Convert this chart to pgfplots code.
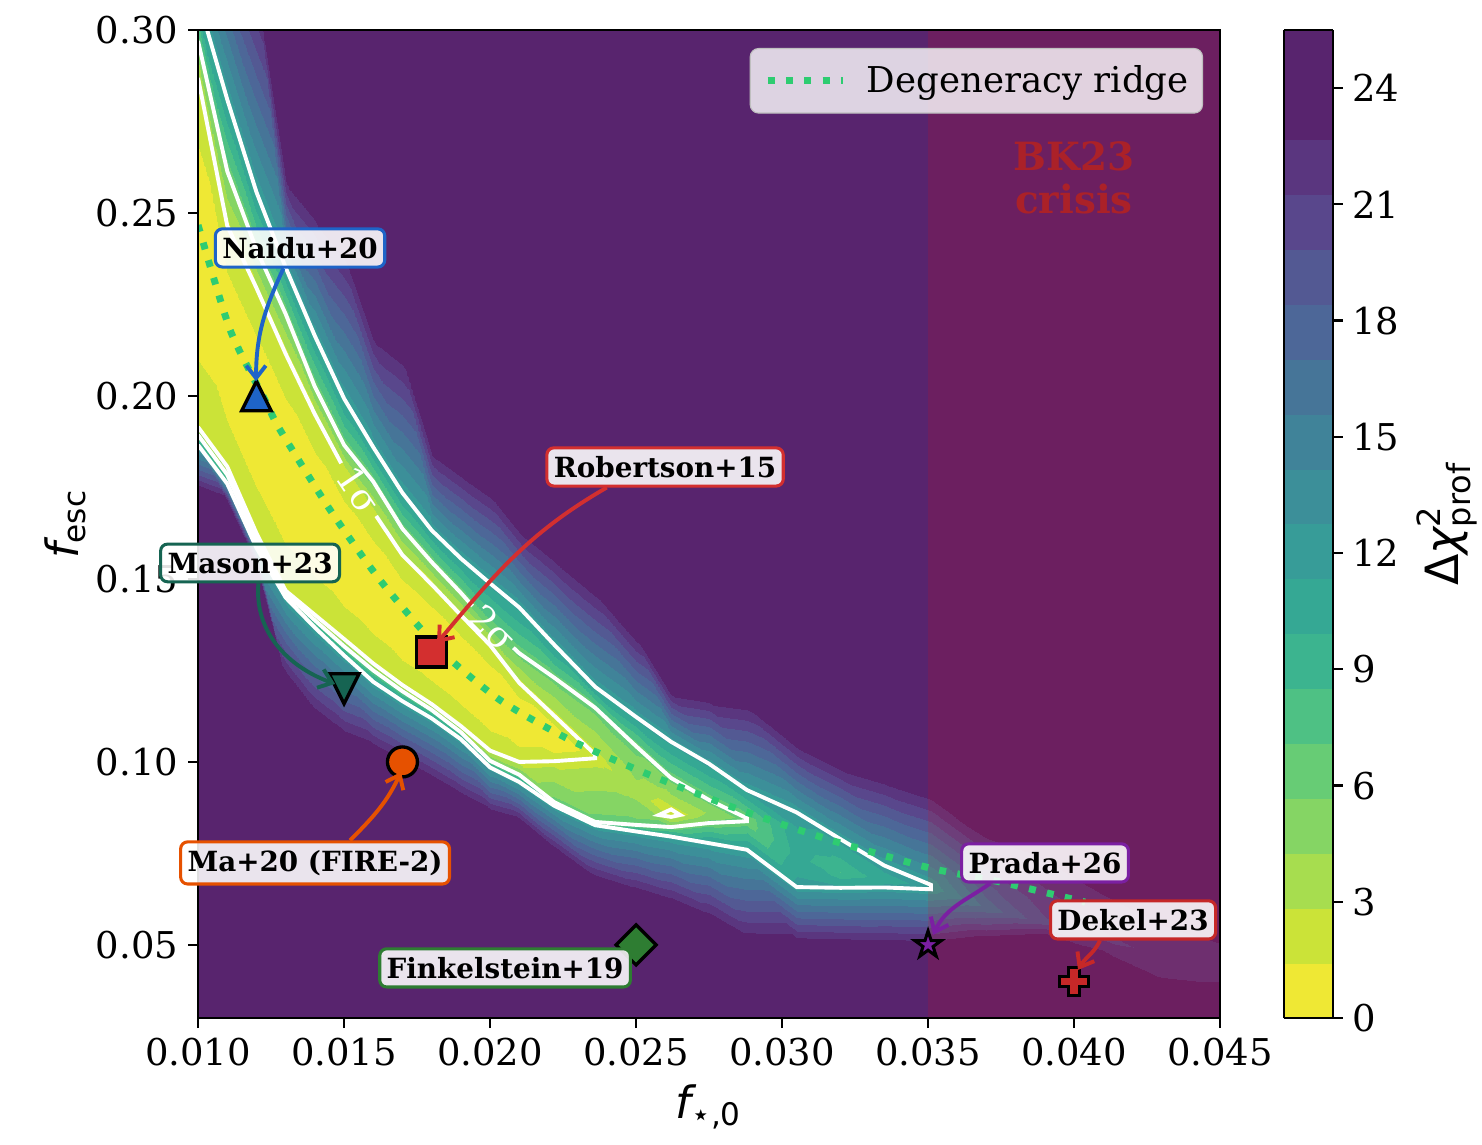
\documentclass[border=0pt]{standalone}
\usepackage{fontspec}
\setmainfont{DejaVu Serif}
\newfontfamily\dvsans{DejaVu Sans}
\usepackage{pgfplots}
\pgfplotsset{compat=1.18}
\usetikzlibrary{arrows.meta}
\pgfkeys{/pgf/number format/assume math mode=true}

\definecolor{ridgegreen}{RGB}{46,204,113}
\definecolor{naiduc}{RGB}{30,100,200}
\definecolor{robc}{RGB}{211,47,47}
\definecolor{masonc}{RGB}{22,100,82}
\definecolor{mac}{RGB}{230,81,0}
\definecolor{finkc}{RGB}{46,125,50}
\definecolor{pradac}{RGB}{123,31,162}
\definecolor{dekelc}{RGB}{198,40,40}
\definecolor{bkc}{RGB}{178,34,34}
\definecolor{bgpurple}{RGB}{88,36,110}

\pgfdeclareplotmark{tri}{%
  \pgfpathmoveto{\pgfqpoint{0pt}{\pgfplotmarksize}}%
  \pgfpathlineto{\pgfqpoint{-\pgfplotmarksize}{-\pgfplotmarksize}}%
  \pgfpathlineto{\pgfqpoint{\pgfplotmarksize}{-\pgfplotmarksize}}%
  \pgfpathclose\pgfusepathqfillstroke}
\pgfdeclareplotmark{tridown}{%
  \pgfpathmoveto{\pgfqpoint{0pt}{-\pgfplotmarksize}}%
  \pgfpathlineto{\pgfqpoint{-\pgfplotmarksize}{\pgfplotmarksize}}%
  \pgfpathlineto{\pgfqpoint{\pgfplotmarksize}{\pgfplotmarksize}}%
  \pgfpathclose\pgfusepathqfillstroke}
\pgfdeclareplotmark{fstar}{%
  \pgfpathmoveto{\pgfqpoint{0pt}{\pgfplotmarksize}}%
  \pgfpathlineto{\pgfqpoint{-0.2245\pgfplotmarksize}{0.3090\pgfplotmarksize}}%
  \pgfpathlineto{\pgfqpoint{-0.9511\pgfplotmarksize}{0.3090\pgfplotmarksize}}%
  \pgfpathlineto{\pgfqpoint{-0.3633\pgfplotmarksize}{-0.1180\pgfplotmarksize}}%
  \pgfpathlineto{\pgfqpoint{-0.5878\pgfplotmarksize}{-0.8090\pgfplotmarksize}}%
  \pgfpathlineto{\pgfqpoint{0pt}{-0.3820\pgfplotmarksize}}%
  \pgfpathlineto{\pgfqpoint{0.5878\pgfplotmarksize}{-0.8090\pgfplotmarksize}}%
  \pgfpathlineto{\pgfqpoint{0.3633\pgfplotmarksize}{-0.1180\pgfplotmarksize}}%
  \pgfpathlineto{\pgfqpoint{0.9511\pgfplotmarksize}{0.3090\pgfplotmarksize}}%
  \pgfpathlineto{\pgfqpoint{0.2245\pgfplotmarksize}{0.3090\pgfplotmarksize}}%
  \pgfpathclose\pgfusepathqfillstroke}
\pgfdeclareplotmark{fplus}{%
  \pgfpathmoveto{\pgfqpoint{-0.36\pgfplotmarksize}{\pgfplotmarksize}}%
  \pgfpathlineto{\pgfqpoint{0.36\pgfplotmarksize}{\pgfplotmarksize}}%
  \pgfpathlineto{\pgfqpoint{0.36\pgfplotmarksize}{0.36\pgfplotmarksize}}%
  \pgfpathlineto{\pgfqpoint{\pgfplotmarksize}{0.36\pgfplotmarksize}}%
  \pgfpathlineto{\pgfqpoint{\pgfplotmarksize}{-0.36\pgfplotmarksize}}%
  \pgfpathlineto{\pgfqpoint{0.36\pgfplotmarksize}{-0.36\pgfplotmarksize}}%
  \pgfpathlineto{\pgfqpoint{0.36\pgfplotmarksize}{-\pgfplotmarksize}}%
  \pgfpathlineto{\pgfqpoint{-0.36\pgfplotmarksize}{-\pgfplotmarksize}}%
  \pgfpathlineto{\pgfqpoint{-0.36\pgfplotmarksize}{-0.36\pgfplotmarksize}}%
  \pgfpathlineto{\pgfqpoint{-\pgfplotmarksize}{-0.36\pgfplotmarksize}}%
  \pgfpathlineto{\pgfqpoint{-\pgfplotmarksize}{0.36\pgfplotmarksize}}%
  \pgfpathlineto{\pgfqpoint{-0.36\pgfplotmarksize}{0.36\pgfplotmarksize}}%
  \pgfpathclose\pgfusepathqfillstroke}

\tikzset{
  lab/.style={font=\bfseries\fontsize{10}{12}\selectfont, rounded corners=2.5pt, fill=white, fill opacity=0.88, text opacity=1, line width=1.1pt, inner xsep=2.5pt, inner ysep=3pt},
  arr/.style={line width=1.4pt, -{Straight Barb[length=4.5pt,width=7pt]}}
}

\begin{document}
\begin{tikzpicture}
\begin{axis}[
  name=ax, scale only axis, width=367.9pt, height=355.7pt,
  xmin=0.010, xmax=0.045, ymin=0.03, ymax=0.30,
  axis on top, clip mode=individual,
  axis background/.style={fill=bgpurple},
  xtick={0.010,0.015,0.020,0.025,0.030,0.035,0.040,0.045},
  ytick={0.05,0.10,0.15,0.20,0.25,0.30},
  scaled x ticks=false, scaled y ticks=false,
  xticklabel style={/pgf/number format/.cd, fixed, fixed zerofill, precision=3},
  yticklabel style={/pgf/number format/.cd, fixed, fixed zerofill, precision=2},
  tick label style={font=\rmfamily\fontsize{13.3}{15}\selectfont},
  tick align=outside, xtick pos=left, ytick pos=left,
  major tick length=3.6pt,
  axis line style={line width=0.8pt},
  every tick/.style={black, line width=0.8pt},
  colormap={dchi}{rgb255=(239,232,52) rgb255=(203,227,56) rgb255=(167,221,79) rgb255=(133,213,100) rgb255=(103,204,117) rgb255=(78,193,132) rgb255=(60,180,143) rgb255=(53,168,148) rgb255=(55,156,152) rgb255=(60,143,153) rgb255=(64,131,153) rgb255=(70,117,152) rgb255=(77,103,152) rgb255=(83,89,147) rgb255=(89,71,140) rgb255=(90,54,127) rgb255=(88,36,110) rgb255=(88,36,110)},
  colormap access=piecewise constant,
  point meta min=0, point meta max=25.5,
  colorbar,
  colorbar style={at={(parent axis.north east)}, anchor=north west, xshift=14.4pt, width=17.6pt,
    ytick={0,3,...,24}, tick align=outside, major tick length=3.6pt, ytick pos=right, yticklabel pos=right,
    yticklabel style={font=\rmfamily\fontsize{13.3}{15}\selectfont},
    axis line style={line width=0.8pt}, every tick/.style={black, line width=0.8pt}},
  legend style={at={(0.9834,0.9818)}, anchor=north east, fill=white, fill opacity=0.8, text opacity=1,
    draw=black!25, rounded corners=3pt, font=\fontsize{12.8}{15}\selectfont, inner xsep=3pt, inner ysep=4pt},
  legend image code/.code={\path (-2pt,0pt); \draw[#1] (0pt,0pt) -- (27pt,0pt); \path (32.5pt,0pt);},
]

% Delta chi^2 surface: columns of fixed x, 11 rows each
\addplot[surf, shader=interp, mesh/rows=11, mesh/cols=27, mesh/ordering=y varies, point meta=explicit, forget plot]
 table[x index=0, y index=1, meta index=2, row sep=\\] {
0.0100 0.0200 25.5\\ 0.0100 0.1743 24\\ 0.0100 0.1866 11.8\\ 0.0100 0.1893 6.18\\ 0.0100 0.1915 2.3\\ 0.0100 0.2392 0\\ 0.0100 0.2869 2.3\\ 0.0100 0.2970 6.18\\ 0.0100 0.3086 11.8\\ 0.0100 0.3600 24\\ 0.0100 0.4000 25.5\\
0.0110 0.0200 25.5\\ 0.0110 0.1714 24\\ 0.0110 0.1760 11.8\\ 0.0110 0.1785 6.18\\ 0.0110 0.1807 2.3\\ 0.0110 0.2136 0\\ 0.0110 0.2465 2.3\\ 0.0110 0.2614 6.18\\ 0.0110 0.2810 11.8\\ 0.0110 0.3360 24\\ 0.0110 0.4000 25.5\\
0.0120 0.0200 25.5\\ 0.0120 0.1540 24\\ 0.0120 0.1585 11.8\\ 0.0120 0.1605 6.18\\ 0.0120 0.1625 2.3\\ 0.0120 0.1960 0\\ 0.0120 0.2295 2.3\\ 0.0120 0.2400 6.18\\ 0.0120 0.2557 11.8\\ 0.0120 0.3145 24\\ 0.0120 0.4000 25.5\\
0.0130 0.0200 25.5\\ 0.0130 0.1220 24\\ 0.0130 0.1449 11.8\\ 0.0130 0.1461 6.18\\ 0.0130 0.1468 2.3\\ 0.0130 0.1792 0\\ 0.0130 0.2115 2.3\\ 0.0130 0.2224 6.18\\ 0.0130 0.2351 11.8\\ 0.0130 0.2616 24\\ 0.0130 0.4000 25.5\\
0.0140 0.0200 25.5\\ 0.0140 0.1120 24\\ 0.0140 0.1367 11.8\\ 0.0140 0.1387 6.18\\ 0.0140 0.1402 2.3\\ 0.0140 0.1676 0\\ 0.0140 0.1950 2.3\\ 0.0140 0.2025 6.18\\ 0.0140 0.2164 11.8\\ 0.0140 0.2519 24\\ 0.0140 0.4000 25.5\\
0.0150 0.0200 25.5\\ 0.0150 0.1060 24\\ 0.0150 0.1291 11.8\\ 0.0150 0.1316 6.18\\ 0.0150 0.1336 2.3\\ 0.0150 0.1569 0\\ 0.0150 0.1801 2.3\\ 0.0150 0.1866 6.18\\ 0.0150 0.1993 11.8\\ 0.0150 0.2420 24\\ 0.0150 0.4000 25.5\\
0.0160 0.0200 25.5\\ 0.0160 0.1030 24\\ 0.0160 0.1219 11.8\\ 0.0160 0.1250 6.18\\ 0.0160 0.1269 2.3\\ 0.0160 0.1477 0\\ 0.0160 0.1684 2.3\\ 0.0160 0.1766 6.18\\ 0.0160 0.1860 11.8\\ 0.0160 0.2191 24\\ 0.0160 0.4000 25.5\\
0.0170 0.0200 25.5\\ 0.0170 0.0990 24\\ 0.0170 0.1166 11.8\\ 0.0170 0.1193 6.18\\ 0.0170 0.1210 2.3\\ 0.0170 0.1388 0\\ 0.0170 0.1565 2.3\\ 0.0170 0.1637 6.18\\ 0.0170 0.1735 11.8\\ 0.0170 0.2129 24\\ 0.0170 0.4000 25.5\\
0.0180 0.0200 25.5\\ 0.0180 0.0945 24\\ 0.0180 0.1119 11.8\\ 0.0180 0.1142 6.18\\ 0.0180 0.1158 2.3\\ 0.0180 0.1322 0\\ 0.0180 0.1485 2.3\\ 0.0180 0.1546 6.18\\ 0.0180 0.1633 11.8\\ 0.0180 0.1863 24\\ 0.0180 0.4000 25.5\\
0.0190 0.0200 25.5\\ 0.0190 0.0900 24\\ 0.0190 0.1062 11.8\\ 0.0190 0.1081 6.18\\ 0.0190 0.1098 2.3\\ 0.0190 0.1250 0\\ 0.0190 0.1401 2.3\\ 0.0190 0.1462 6.18\\ 0.0190 0.1556 11.8\\ 0.0190 0.1807 24\\ 0.0190 0.4000 25.5\\
0.0200 0.0200 25.5\\ 0.0200 0.0858 24\\ 0.0200 0.0985 11.8\\ 0.0200 0.1003 6.18\\ 0.0200 0.1031 2.3\\ 0.0200 0.1175 0\\ 0.0200 0.1319 2.3\\ 0.0200 0.1371 6.18\\ 0.0200 0.1488 11.8\\ 0.0200 0.1751 24\\ 0.0200 0.4000 25.5\\
0.0210 0.0200 25.5\\ 0.0210 0.0836 24\\ 0.0210 0.0945 11.8\\ 0.0210 0.0965 6.18\\ 0.0210 0.1000 2.3\\ 0.0210 0.1108 0\\ 0.0210 0.1216 2.3\\ 0.0210 0.1297 6.18\\ 0.0210 0.1422 11.8\\ 0.0210 0.1653 24\\ 0.0210 0.4000 25.5\\
0.0222 0.0200 25.5\\ 0.0222 0.0757 24\\ 0.0222 0.0880 11.8\\ 0.0222 0.0890 6.18\\ 0.0222 0.1002 2.3\\ 0.0222 0.1064 0\\ 0.0222 0.1126 2.3\\ 0.0222 0.1230 6.18\\ 0.0222 0.1320 11.8\\ 0.0222 0.1575 24\\ 0.0222 0.4000 25.5\\
0.0236 0.0200 25.5\\ 0.0236 0.0674 24\\ 0.0236 0.0827 11.8\\ 0.0236 0.0836 6.18\\ 0.0236 0.1010 2.3\\ 0.0236 0.1015 2.3\\ 0.0236 0.1020 2.3\\ 0.0236 0.1148 6.18\\ 0.0236 0.1205 11.8\\ 0.0236 0.1484 24\\ 0.0236 0.4000 25.5\\
0.0250 0.0200 25.5\\ 0.0250 0.0639 24\\ 0.0250 0.0810 11.8\\ 0.0250 0.0828 6.18\\ 0.0250 0.0874 4.89\\ 0.0250 0.0920 3.6\\ 0.0250 0.0982 4.89\\ 0.0250 0.1043 6.18\\ 0.0250 0.1123 11.8\\ 0.0250 0.1355 24\\ 0.0250 0.4000 25.5\\
0.0262 0.0200 25.5\\ 0.0262 0.0610 24\\ 0.0262 0.0796 11.8\\ 0.0262 0.0822 6.18\\ 0.0262 0.0838 3.89\\ 0.0262 0.0855 1.6\\ 0.0262 0.0905 3.89\\ 0.0262 0.0956 6.18\\ 0.0262 0.1055 11.8\\ 0.0262 0.1200 24\\ 0.0262 0.4000 25.5\\
0.0275 0.0200 25.5\\ 0.0275 0.0564 24\\ 0.0275 0.0778 11.8\\ 0.0275 0.0833 6.18\\ 0.0275 0.0848 5.34\\ 0.0275 0.0862 4.5\\ 0.0275 0.0879 5.34\\ 0.0275 0.0896 6.18\\ 0.0275 0.0995 11.8\\ 0.0275 0.1182 24\\ 0.0275 0.4000 25.5\\
0.0288 0.0200 25.5\\ 0.0288 0.0506 24\\ 0.0288 0.0760 11.8\\ 0.0288 0.0838 6.18\\ 0.0288 0.0840 6.18\\ 0.0288 0.0842 6.18\\ 0.0288 0.0844 6.18\\ 0.0288 0.0846 6.18\\ 0.0288 0.0923 11.8\\ 0.0288 0.1169 24\\ 0.0288 0.4000 25.5\\
0.0305 0.0200 25.5\\ 0.0305 0.0503 24\\ 0.0305 0.0658 11.8\\ 0.0305 0.0685 11.37\\ 0.0305 0.0713 10.93\\ 0.0305 0.0740 10.5\\ 0.0305 0.0781 10.93\\ 0.0305 0.0821 11.37\\ 0.0305 0.0862 11.8\\ 0.0305 0.1061 24\\ 0.0305 0.4000 25.5\\
0.0320 0.0200 25.5\\ 0.0320 0.0500 24\\ 0.0320 0.0656 11.8\\ 0.0320 0.0671 10.7\\ 0.0320 0.0685 9.6\\ 0.0320 0.0700 8.5\\ 0.0320 0.0730 9.6\\ 0.0320 0.0759 10.7\\ 0.0320 0.0789 11.8\\ 0.0320 0.1002 24\\ 0.0320 0.4000 25.5\\
0.0335 0.0200 25.5\\ 0.0335 0.0497 24\\ 0.0335 0.0657 11.8\\ 0.0335 0.0665 11.47\\ 0.0335 0.0672 11.13\\ 0.0335 0.0680 10.8\\ 0.0335 0.0692 11.13\\ 0.0335 0.0705 11.47\\ 0.0335 0.0717 11.8\\ 0.0335 0.0966 24\\ 0.0335 0.4000 25.5\\
0.0351 0.0200 25.5\\ 0.0351 0.0495 24\\ 0.0351 0.0652 11.8\\ 0.0351 0.0654 11.8\\ 0.0351 0.0656 11.8\\ 0.0351 0.0658 11.8\\ 0.0351 0.0660 11.8\\ 0.0351 0.0662 11.8\\ 0.0351 0.0664 11.8\\ 0.0351 0.0925 24\\ 0.0351 0.4000 25.5\\
0.0370 0.0200 25.5\\ 0.0370 0.0510 24\\ 0.0370 0.0533 22\\ 0.0370 0.0555 20\\ 0.0370 0.0578 18\\ 0.0370 0.0600 16\\ 0.0370 0.0658 18\\ 0.0370 0.0715 20\\ 0.0370 0.0773 22\\ 0.0370 0.0830 24\\ 0.0370 0.4000 25.5\\
0.0390 0.0200 25.5\\ 0.0390 0.0520 24\\ 0.0390 0.0530 22.88\\ 0.0390 0.0540 21.75\\ 0.0390 0.0550 20.63\\ 0.0390 0.0560 19.5\\ 0.0390 0.0621 20.63\\ 0.0390 0.0683 21.75\\ 0.0390 0.0744 22.88\\ 0.0390 0.0805 24\\ 0.0390 0.4000 25.5\\
0.0410 0.0200 25.5\\ 0.0410 0.0460 24\\ 0.0410 0.0475 23.25\\ 0.0410 0.0490 22.5\\ 0.0410 0.0505 21.75\\ 0.0410 0.0520 21\\ 0.0410 0.0573 21.75\\ 0.0410 0.0625 22.5\\ 0.0410 0.0678 23.25\\ 0.0410 0.0730 24\\ 0.0410 0.4000 25.5\\
0.0430 0.0200 25.5\\ 0.0430 0.0345 24\\ 0.0430 0.0376 23.38\\ 0.0430 0.0408 22.75\\ 0.0430 0.0439 22.13\\ 0.0430 0.0470 21.5\\ 0.0430 0.0515 22.13\\ 0.0430 0.0560 22.75\\ 0.0430 0.0605 23.38\\ 0.0430 0.0650 24\\ 0.0430 0.4000 25.5\\
0.0450 0.0200 25.5\\ 0.0450 0.0314 24\\ 0.0450 0.0346 23.5\\ 0.0450 0.0377 23\\ 0.0450 0.0409 22.5\\ 0.0450 0.0440 22\\ 0.0450 0.0488 22.5\\ 0.0450 0.0536 23\\ 0.0450 0.0583 23.5\\ 0.0450 0.0631 24\\ 0.0450 0.4000 25.5\\
};

% BK23 crisis shading
\addplot[draw=none, fill=red, fill opacity=0.12, forget plot] coordinates {(0.035,0.03) (0.045,0.03) (0.045,0.30) (0.035,0.30)} -- cycle;

% contour lines (1, 2, 3 sigma)
\addplot[white, line width=1.4pt, forget plot] coordinates {(0.0100,0.2869) (0.0110,0.2465) (0.0120,0.2295) (0.0130,0.2115) (0.0140,0.1950) (0.0149,0.1816)};
\addplot[white, line width=1.4pt, forget plot] coordinates {(0.0161,0.1672) (0.0170,0.1565) (0.0180,0.1485) (0.0190,0.1401) (0.0200,0.1319) (0.0210,0.1216) (0.0222,0.1126) (0.0236,0.1020) (0.0236,0.1010) (0.0222,0.1002) (0.0210,0.1000) (0.0200,0.1031) (0.0190,0.1098) (0.0180,0.1158) (0.0170,0.1210) (0.0160,0.1269) (0.0150,0.1336) (0.0140,0.1402) (0.0130,0.1468) (0.0120,0.1625) (0.0110,0.1807) (0.0100,0.1915)};
\addplot[white, line width=1.4pt, forget plot] coordinates {(0.0100,0.2970) (0.0110,0.2614) (0.0120,0.2400) (0.0130,0.2224) (0.0140,0.2025) (0.0150,0.1866) (0.0160,0.1766) (0.0170,0.1637) (0.0180,0.1546) (0.0190,0.1462) (0.0194,0.1426)};
\addplot[white, line width=1.4pt, forget plot] coordinates {(0.0208,0.1312) (0.0210,0.1297) (0.0222,0.1230) (0.0236,0.1148) (0.0250,0.1043) (0.0262,0.0956) (0.0275,0.0896) (0.0288,0.0846) (0.0288,0.0838) (0.0275,0.0833) (0.0262,0.0822) (0.0250,0.0828) (0.0236,0.0836) (0.0222,0.0890) (0.0210,0.0965) (0.0200,0.1003) (0.0190,0.1081) (0.0180,0.1142) (0.0170,0.1193) (0.0160,0.1250) (0.0150,0.1316) (0.0140,0.1387) (0.0130,0.1461) (0.0120,0.1605) (0.0110,0.1785) (0.0100,0.1893)};
\addplot[white, line width=1.4pt, forget plot] coordinates {(0.0100,0.3086) (0.0110,0.2810) (0.0120,0.2557) (0.0130,0.2351) (0.0140,0.2164) (0.0150,0.1993) (0.0160,0.1860) (0.0170,0.1735) (0.0180,0.1633) (0.0190,0.1556) (0.0200,0.1488) (0.0210,0.1422) (0.0222,0.1320) (0.0236,0.1205) (0.0250,0.1123) (0.0262,0.1055) (0.0275,0.0995) (0.0288,0.0923) (0.0305,0.0862) (0.0320,0.0789) (0.0335,0.0717) (0.0351,0.0664) (0.0351,0.0652) (0.0335,0.0657) (0.0320,0.0656) (0.0305,0.0658) (0.0288,0.0760) (0.0275,0.0778) (0.0262,0.0796) (0.0250,0.0810) (0.0236,0.0827) (0.0222,0.0880) (0.0210,0.0945) (0.0200,0.0985) (0.0190,0.1062) (0.0180,0.1119) (0.0170,0.1166) (0.0160,0.1219) (0.0150,0.1291) (0.0140,0.1367) (0.0130,0.1449) (0.0120,0.1585) (0.0110,0.1760) (0.0100,0.1866)};
\addplot[white, line width=1.4pt, forget plot] coordinates {(0.02578,0.0855) (0.0262,0.08498) (0.02651,0.0855) (0.0262,0.08703)} -- cycle;

\node[text=white, rotate=-56, font=\fontsize{13}{14}\selectfont] at (axis cs:0.0155,0.1744) {1σ};
\node[text=white, rotate=-45, font=\fontsize{13}{14}\selectfont] at (axis cs:0.0201,0.1367) {2σ};

% degeneracy ridge
\addplot[ridgegreen, line width=2.5pt, dash pattern=on 2.5pt off 4.1pt, smooth, tension=0.4] coordinates {
(0.0100,0.2467) (0.0111,0.2180) (0.01229,0.1989) (0.01281,0.1907) (0.01452,0.1689) (0.01623,0.1497) (0.01829,0.1306) (0.02034,0.1169) (0.02274,0.1060) (0.02548,0.0964) (0.02856,0.0869) (0.03164,0.0787) (0.03507,0.0710) (0.03747,0.0672) (0.04038,0.0617)};
\addlegendentry{Degeneracy ridge}

% literature points
\addplot[only marks, mark=tri, mark size=5.3pt, mark options={fill=naiduc, draw=black, line width=1.2pt, solid}, forget plot] coordinates {(0.012,0.20)};
\addplot[only marks, mark=tridown, mark size=5.4pt, mark options={fill=masonc, draw=black, line width=1.2pt, solid}, forget plot] coordinates {(0.015,0.12)};
\addplot[only marks, mark=square*, mark size=5.4pt, mark options={fill=robc, draw=black, line width=1.2pt, solid}, forget plot] coordinates {(0.018,0.13)};
\addplot[only marks, mark=*, mark size=5.4pt, mark options={fill=mac, draw=black, line width=1.2pt, solid}, forget plot] coordinates {(0.017,0.10)};
\addplot[only marks, mark=square*, mark size=5.1pt, mark options={rotate=45, fill=finkc, draw=black, line width=1.2pt, solid}, forget plot] coordinates {(0.025,0.05)};
\addplot[only marks, mark=fstar, mark size=5.0pt, mark options={fill=pradac, draw=black, line width=1.1pt, solid}, forget plot] coordinates {(0.035,0.05)};
\addplot[only marks, mark=fplus, mark size=5.2pt, mark options={fill=dekelc, draw=black, line width=1.1pt, solid}, forget plot] coordinates {(0.040,0.04)};

\node[text=bkc, opacity=0.9, align=center, font=\bfseries\fontsize{14}{15.5}\selectfont] at (axis cs:0.0400,0.2596) {BK23\\crisis};

% anchor points for the annotations
\coordinate (cNaidu) at (axis cs:0.013493,0.24044);
\coordinate (cRob) at (axis cs:0.025993,0.18060);
\coordinate (cMason) at (axis cs:0.011781,0.15437);
\coordinate (cMa) at (axis cs:0.014007,0.07240);
\coordinate (cFink) at (axis cs:0.020514,0.04372);
\coordinate (cPrada) at (axis cs:0.039007,0.07240);
\coordinate (cDekel) at (axis cs:0.042021,0.05683);
\coordinate (eNaidu) at (axis cs:0.011986,0.2040);
\coordinate (eRob) at (axis cs:0.018185,0.13251);
\coordinate (eMason) at (axis cs:0.014692,0.12131);
\coordinate (eMa) at (axis cs:0.016952,0.09727);
\coordinate (ePrada) at (axis cs:0.035171,0.05273);
\coordinate (eDekel) at (axis cs:0.040137,0.04317);
\end{axis}

\node[lab, draw=naiduc] (naidu) at (cNaidu) {Naidu+20};
\node[lab, draw=robc] (rob) at (cRob) {Robertson+15};
\node[lab, draw=masonc] (mason) at (cMason) {Mason+23};
\node[lab, draw=mac] (ma) at (cMa) {Ma+20 (FIRE-2)};
\node[lab, draw=finkc] (fink) at (cFink) {Finkelstein+19};
\node[lab, draw=pradac] (prada) at (cPrada) {Prada+26};
\node[lab, draw=dekelc] (dekel) at (cDekel) {Dekel+23};

\draw[arr, naiduc] ([xshift=-6pt]naidu.south) to[out=-115, in=90] (eNaidu);
\draw[arr, robc] ([xshift=-21pt]rob.south) to[out=-150, in=50] (eRob);
\draw[arr, masonc] ([xshift=3pt]mason.south) to[out=-95, in=160] (eMason);
\draw[arr, mac] ([xshift=12.6pt]ma.north) to[out=45, in=-115] (eMa);
\draw[arr, pradac] ([xshift=-19.8pt]prada.south) to[out=-145, in=65] (ePrada);
\draw[arr, dekelc] ([xshift=-11.9pt]dekel.south) to[out=-115, in=60] (eDekel);

\node[rotate=90, anchor=base, font=\fontsize{16}{19}\selectfont] at ([xshift=-43.2pt]ax.west) {\dvsans\itshape f\textsubscript{\upshape esc}};
\node[anchor=base, font=\fontsize{16}{19}\selectfont] at ([yshift=-36pt]ax.south) {\dvsans\itshape f\textsubscript{\upshape ⋆,0}};
\node[rotate=90, anchor=base, font=\fontsize{16.5}{19}\selectfont] at ([xshift=85.7pt]ax.east) {\dvsans Δ\itshape χ\upshape$^{\hbox{\dvsans\fontsize{11.5}{13}\selectfont 2}}_{\hbox{\dvsans\fontsize{11.5}{13}\selectfont prof}}$};

\pgfresetboundingbox
\path[use as bounding box] ([xshift=-71.3pt,yshift=-45.4pt]ax.south west) rectangle ([xshift=94.3pt,yshift=10.8pt]ax.north east);
\end{tikzpicture}
\end{document}
